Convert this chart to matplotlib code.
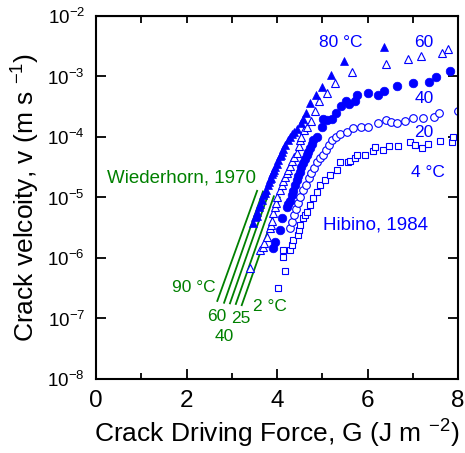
import numpy as np
import matplotlib
matplotlib.use("Agg")
import matplotlib.pyplot as plt

plt.rcParams['font.family'] = ['Liberation Sans', 'DejaVu Sans']
plt.rcParams['mathtext.fontset'] = 'custom'
plt.rcParams['mathtext.rm'] = 'Liberation Sans'
plt.rcParams['mathtext.it'] = 'Liberation Sans:italic'
plt.rcParams['mathtext.bf'] = 'Liberation Sans:bold'

# Hibino, 1984 data (G in J m^-2, log10 of v in m/s)
g80 = [3.47, 3.52, 3.55, 3.56, 3.60, 3.63, 3.67, 3.70, 3.73, 3.76, 3.79, 3.82, 3.84, 3.86, 3.89,
       3.91, 3.93, 3.96, 3.99, 4.02, 4.06, 4.08, 4.11, 4.14, 4.18, 4.24, 4.28, 4.33, 4.38, 4.44,
       4.53, 4.58, 4.64, 4.73, 4.86, 4.99, 5.19, 5.48, 6.36]
lv80 = [-5.42, -5.33, -5.30, -5.24, -5.15, -5.10, -5.04, -4.96, -4.92, -4.88, -4.80, -4.74, -4.70, -4.67, -4.61,
        -4.58, -4.55, -4.50, -4.45, -4.38, -4.31, -4.30, -4.25, -4.20, -4.13, -4.05, -4.00, -3.95, -3.91, -3.87,
        -3.77, -3.70, -3.60, -3.44, -3.31, -3.17, -2.98, -2.74, -2.51]

g60 = [3.40, 3.62, 3.69, 3.72, 3.78, 3.85, 3.87, 3.89, 3.91, 3.95, 3.98, 4.00, 4.06, 4.11, 4.14,
       4.18, 4.21, 4.24, 4.29, 4.33, 4.38, 4.44, 4.49, 4.51, 4.53, 4.60, 4.66, 4.75, 4.84, 4.93,
       5.10, 5.28, 5.66, 6.41, 6.90, 7.18, 7.65, 7.78]
lv60 = [-6.17, -5.87, -5.82, -5.75, -5.65, -5.50, -5.45, -5.39, -5.26, -5.15, -5.09, -4.99, -4.88, -4.79, -4.72,
        -4.66, -4.60, -4.55, -4.48, -4.40, -4.33, -4.26, -4.15, -4.05, -4.00, -3.88, -3.83, -3.74, -3.57, -3.40,
        -3.27, -3.11, -2.93, -2.79, -2.71, -2.66, -2.61, -2.55]

g40 = [3.91, 3.96, 4.07, 4.11, 4.22, 4.25, 4.29, 4.33, 4.36, 4.40, 4.44, 4.47, 4.51, 4.54, 4.57,
       4.61, 4.66, 4.69, 4.73, 4.77, 4.80, 4.89, 5.00, 5.02, 5.10, 5.22, 5.30, 5.41, 5.52, 5.60,
       5.72, 5.77, 6.01, 6.23, 6.36, 6.65, 7.01, 7.36, 7.51, 7.82]
lv40 = [-5.84, -5.74, -5.54, -5.34, -5.16, -5.11, -5.06, -4.96, -4.90, -4.80, -4.71, -4.65, -4.58, -4.50, -4.43,
        -4.37, -4.30, -4.24, -4.18, -4.12, -4.05, -4.00, -3.83, -3.70, -3.72, -3.70, -3.60, -3.49, -3.40, -3.45,
        -3.40, -3.31, -3.27, -3.31, -3.24, -3.16, -3.11, -3.09, -3.01, -2.91]

g20 = [4.29, 4.33, 4.38, 4.42, 4.46, 4.51, 4.57, 4.64, 4.71, 4.75, 4.82, 4.88, 4.95, 5.02, 5.08, 5.15,
       5.22, 5.30, 5.39, 5.55, 5.68, 5.86, 6.01, 6.23, 6.41, 6.52, 6.65, 6.83, 7.01, 7.23, 7.47, 7.58, 8.00]
lv20 = [-5.50, -5.40, -5.29, -5.19, -5.09, -4.99, -4.88, -4.79, -4.68, -4.60, -4.51, -4.41, -4.35, -4.30, -4.21, -4.13,
        -4.05, -4.00, -3.95, -3.92, -3.85, -3.83, -3.83, -3.77, -3.72, -3.75, -3.77, -3.74, -3.69, -3.69, -3.67, -3.60, -3.57]

g4 = [4.02, 4.18, 4.13, 4.13, 4.29, 4.33, 4.35, 4.46, 4.49, 4.51, 4.57, 4.62, 4.66, 4.73, 4.80, 4.88, 4.95,
      5.06, 5.17, 5.33, 5.39, 5.57, 5.61, 5.72, 5.77, 5.94, 6.12, 6.17, 6.34, 6.47, 6.67, 6.94, 7.05, 7.20,
      7.34, 7.60, 7.87, 7.89]
lv4 = [-6.50, -6.21, -5.98, -5.87, -5.87, -5.79, -5.70, -5.62, -5.54, -5.45, -5.34, -5.29, -5.24, -5.12, -5.01, -4.91, -4.79,
       -4.71, -4.63, -4.55, -4.41, -4.41, -4.40, -4.35, -4.30, -4.30, -4.23, -4.17, -4.21, -4.15, -4.15, -4.08, -4.13, -4.18,
       -4.12, -4.07, -4.08, -4.00]

# Wiederhorn, 1970 lines: (G start, G end), (log v start, log v end)
w_labels = ['90', '60', '40', '25', '2']
w_g = [(2.68, 3.56), (2.83, 3.69), (2.96, 3.81), (3.09, 3.93), (3.22, 4.06)]
w_lv = [(-6.71, -4.89), (-6.74, -4.90), (-6.75, -4.94), (-6.76, -4.98), (-6.78, -5.00)]

blue = '#0000ff'
green = '#008000'

fig = plt.figure(figsize=(4.65, 4.53), dpi=100)
ax = fig.add_axes([0.2065, 0.1634, 0.7785, 0.8013])

for (x0, x1), (y0, y1) in zip(w_g, w_lv):
    ax.plot([x0, x1], [10**y0, 10**y1], color=green, lw=1.3)

ax.plot(g4, 10**np.array(lv4), 's', ms=5, mfc='white', mec=blue, mew=0.8)
ax.plot(g20, 10**np.array(lv20), 'o', ms=5.5, mfc='white', mec=blue, mew=0.8)
ax.plot(g40, 10**np.array(lv40), 'o', ms=6.2, mfc=blue, mec=blue, mew=0.5)
ax.plot(g60, 10**np.array(lv60), '^', ms=6.3, mfc='white', mec=blue, mew=0.8)
ax.plot(g80, 10**np.array(lv80), '^', ms=6.3, mfc=blue, mec=blue, mew=0.5)

ax.set_yscale('log')
ax.set_xlim(0, 8)
ax.set_ylim(1e-8, 1e-2)
ax.set_xticks([0, 2, 4, 6, 8])
ax.set_xticks([1, 3, 5, 7], minor=True)
ax.set_yticks([10.0**k for k in range(-8, -1)])
ax.yaxis.set_minor_locator(matplotlib.ticker.NullLocator())
ax.tick_params(axis='x', which='major', direction='in', length=7, width=1.3, labelsize=17.5, pad=8)
ax.tick_params(axis='x', which='minor', direction='in', length=4, width=1.3)
ax.tick_params(axis='y', which='major', direction='in', length=7, width=1.3, labelsize=13.5, pad=8,
               right=True)
for s in ax.spines.values():
    s.set_linewidth(1.5)

top = ax.secondary_xaxis('top')
top.set_xticks(range(0, 9))
top.tick_params(direction='in', length=5, width=1.3, labeltop=False)

ax.set_xlabel('Crack Driving Force, G (J m $^{-2}$)', fontsize=19, labelpad=4)
ax.set_ylabel('Crack velcoity, v (m s $^{-1}$)', fontsize=19, labelpad=4)

# annotations
ax.text(5.41, 10**-2.44, '80 °C', color=blue, fontsize=12.5, ha='center', va='center')
ax.text(7.25, 10**-2.44, '60', color=blue, fontsize=12.5, ha='center', va='center')
ax.text(7.25, 10**-3.37, '40', color=blue, fontsize=12.5, ha='center', va='center')
ax.text(7.25, 10**-3.93, '20', color=blue, fontsize=12.5, ha='center', va='center')
ax.text(7.34, 10**-4.58, '4 °C', color=blue, fontsize=12.5, ha='center', va='center')
ax.text(6.18, 10**-5.45, 'Hibino, 1984', color=blue, fontsize=13.5, ha='center', va='center')
ax.text(1.89, 10**-4.68, 'Wiederhorn, 1970', color=green, fontsize=13.5, ha='center', va='center')

w_text_pos = [(2.155, -6.49), (2.67, -6.97), (2.83, -7.30), (3.20, -7.0), (3.85, -6.80)]
for lab, (tx, ty) in zip(w_labels, w_text_pos):
    txt = lab + ' °C' if lab in ('90', '2') else lab
    ax.text(tx, 10**ty, txt, color=green, fontsize=12.5, ha='center', va='center')

fig.savefig('out.png', dpi=100)
